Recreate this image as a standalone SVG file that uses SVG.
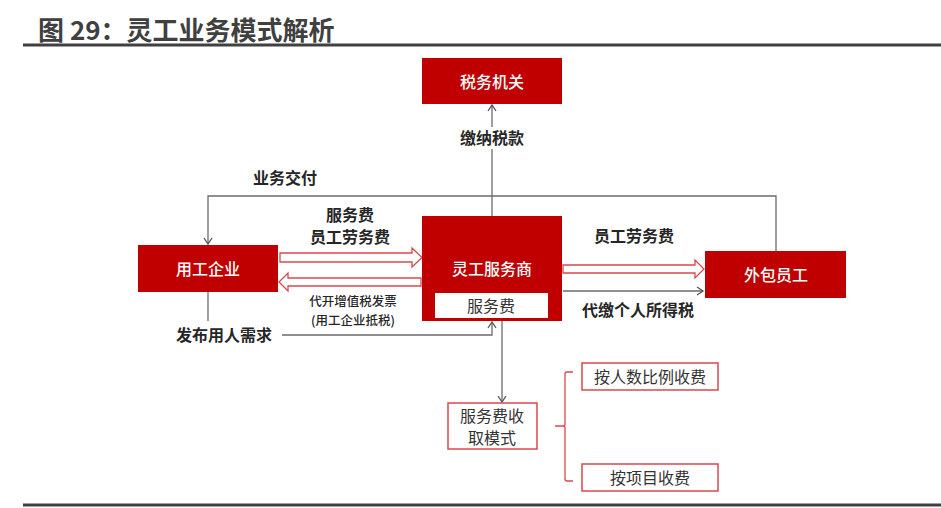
<svg xmlns="http://www.w3.org/2000/svg" width="941" height="508" viewBox="0 0 941 508">
<style>
text{font-family:"Noto Sans CJK SC","Liberation Sans",sans-serif;text-anchor:middle;dominant-baseline:central}
.title{font-size:26px;font-weight:bold;fill:#404040;text-anchor:start}
.red{fill:#C00000}
.wt{fill:#fff;font-size:16px;font-weight:500}
.lbl{fill:#262626;font-size:16px;font-weight:bold}
.sm{fill:#262626;font-size:12.5px;font-weight:500}
.dk{fill:#333;font-size:16px}
.ob{fill:#fff;stroke:#D9484E;stroke-width:1.5}
.conn{fill:none;stroke:#6b6b6b;stroke-width:1.3}
.blk{fill:#fff;stroke:#D9484E;stroke-width:1.3}
</style>
<defs>
<marker id="ah" markerUnits="userSpaceOnUse" markerWidth="12" markerHeight="12" refX="9" refY="5" orient="auto">
<path d="M3,1 L9,5 L3,9" fill="none" stroke="#555" stroke-width="1.3"/>
</marker>
</defs>
<rect width="941" height="508" fill="#fff"/>
<text class="title" x="38" y="28">图 29：灵工业务模式解析</text>
<rect x="23" y="43.5" width="918" height="3" fill="#404040"/>
<rect x="23" y="503.5" width="918" height="3" fill="#404040"/>

<g id="connectors">
<line class="conn" x1="492" y1="216" x2="492" y2="105" marker-end="url(#ah)"/>
<rect x="460" y="127" width="64" height="22" fill="#fff"/>
<polyline class="conn" points="776,251 776,196 208,196 208,244" marker-end="url(#ah)"/>
<line class="conn" x1="208" y1="292" x2="208" y2="321"/>
<polyline class="conn" points="282,335 492,335 492,322" marker-end="url(#ah)"/>
<line class="conn" x1="502" y1="321" x2="502" y2="402" marker-end="url(#ah)"/>
<line class="conn" x1="563" y1="291" x2="703" y2="291" marker-end="url(#ah)"/>
<path class="blk" d="M280,253 L412,253 L412,248 L422,257.5 L412,267 L412,262 L280,262 Z"/>
<path class="blk" d="M421,278 L288,278 L288,273 L279,282 L288,291 L288,286 L421,286 Z"/>
<path class="blk" d="M563,265 L695,265 L695,260 L704,269 L695,278 L695,273 L563,273 Z"/>
<path d="M573,372 L567,372 Q565,372 565,374 L565,424 Q565,426 563,426 L555,426 M563,426 Q565,426 565,428 L565,479 Q565,481 567,481 L573,481" fill="none" stroke="#D9484E" stroke-width="1.3"/>
<text class="lbl" x="492" y="137">缴纳税款</text>
<text class="lbl" x="285" y="177">业务交付</text>
<text class="lbl" x="350" y="214">服务费</text>
<text class="lbl" x="350" y="236">员工劳务费</text>
<text class="sm" x="353" y="300">代开增值税发票</text>
<text class="sm" x="353" y="319">(用工企业抵税)</text>
<text class="lbl" x="224" y="334">发布用人需求</text>
<text class="lbl" x="634" y="235">员工劳务费</text>
<text class="lbl" x="638" y="309">代缴个人所得税</text>
</g>

<g id="tax"><rect class="red" x="422" y="58" width="140" height="46"/><text class="wt" x="492" y="81">税务机关</text></g>
<g id="employer"><rect class="red" x="138" y="245" width="140" height="47"/><text class="wt" x="208" y="268">用工企业</text></g>
<g id="provider"><rect class="red" x="422" y="216" width="140" height="105"/><text class="wt" x="492" y="268">灵工服务商</text>
<rect x="435" y="293" width="113" height="25" fill="#fff"/><text class="dk" x="491" y="305">服务费</text></g>
<g id="worker"><rect class="red" x="705" y="251" width="141" height="47"/><text class="wt" x="776" y="274">外包员工</text></g>
<g id="fee-mode"><rect class="ob" x="448" y="403" width="89" height="46"/><text class="dk" x="492" y="415">服务费收</text><text class="dk" x="492" y="437">取模式</text></g>
<g id="by-headcount"><rect class="ob" x="582" y="363" width="136" height="27"/><text class="dk" x="650" y="376">按人数比例收费</text></g>
<g id="by-project"><rect class="ob" x="582" y="464" width="136" height="27"/><text class="dk" x="650" y="477">按项目收费</text></g>
</svg>
